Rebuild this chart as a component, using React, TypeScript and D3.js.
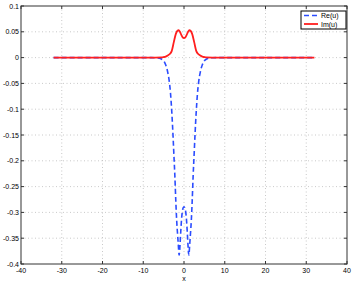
import React from "react";
import * as d3 from "d3";

const xTicks = [-40, -30, -20, -10, 0, 10, 20, 30, 40];
const yTicks = [0.1, 0.05, 0, -0.05, -0.1, -0.15, -0.2, -0.25, -0.3, -0.35, -0.4];

const reXLeft = [-32, -8, -7, -6, -5.5, -5, -4.5, -4, -3.6, -3.3, -3.0, -2.7, -2.5, -2.25, -2.0, -1.8, -1.6, -1.4, -1.2, -1.1, -1.0, -0.8, -0.6, -0.4, -0.2, 0];
const reYLeft = [0, 0, -0.0003, -0.001, -0.003, -0.006, -0.014, -0.028, -0.047, -0.07, -0.105, -0.15, -0.185, -0.228, -0.28, -0.315, -0.34, -0.362, -0.383, -0.378, -0.366, -0.338, -0.313, -0.298, -0.291, -0.289];

const imXLeft = [-32, -7, -5.5, -5, -4.5, -4, -3.5, -3.0, -2.5, -2.0, -1.6, -1.3, -1.0, -0.6, -0.3, 0];
const imYLeft = [0, 0, 0.0003, 0.001, 0.002, 0.004, 0.007, 0.013, 0.03, 0.046, 0.052, 0.053, 0.05, 0.043, 0.039, 0.038];

function mirror(xs: number[], ys: number[]): [number, number][] {
  const left = xs.map((x, i) => [x, ys[i]] as [number, number]);
  const right = left.slice(0, -1).reverse().map(([x, y]) => [-x, y] as [number, number]);
  return [...left, ...right];
}

const reData = mirror(reXLeft, reYLeft);
const imData = mirror(imXLeft, imYLeft);

export default function App() {
  const W = 354, H = 285;
  const L = 21, R = 347, T = 6, B = 264;
  const x = d3.scaleLinear().domain([-40, 40]).range([L, R]);
  const y = d3.scaleLinear().domain([-0.4, 0.1]).range([B, T]);
  const line = d3.line<[number, number]>().x(d => x(d[0])).y(d => y(d[1])).curve(d3.curveMonotoneX);
  const font = "Liberation Sans, Arial, sans-serif";
  const axisColor = "#333";
  return (
    <svg width={W} height={H} style={{ position: "absolute", left: 0, top: 0, background: "#fff" }}>
      <rect x={0} y={0} width={W} height={H} fill="#fff" />
      {/* grid */}
      {xTicks.slice(1, -1).map(t => (
        <line key={"gx" + t} x1={x(t)} x2={x(t)} y1={T} y2={B} stroke="#bbb" strokeWidth={0.8} strokeDasharray="1,2.5" />
      ))}
      {yTicks.slice(1, -1).map(t => (
        <line key={"gy" + t} x1={L} x2={R} y1={y(t)} y2={y(t)} stroke="#bbb" strokeWidth={0.8} strokeDasharray="1,2.5" />
      ))}
      {/* curves */}
      <path d={line(reData) || ""} fill="none" stroke="#2b4cff" strokeWidth={1.6} strokeDasharray="5,3" />
      <path d={line(imData) || ""} fill="none" stroke="#ff1f1f" strokeWidth={1.8} />
      {/* box */}
      <rect x={L} y={T} width={R - L} height={B - T} fill="none" stroke={axisColor} strokeWidth={1} />
      {/* ticks */}
      {xTicks.map(t => (
        <g key={"tx" + t}>
          <line x1={x(t)} x2={x(t)} y1={B} y2={B - 3} stroke={axisColor} />
          <line x1={x(t)} x2={x(t)} y1={T} y2={T + 3} stroke={axisColor} />
          <text x={x(t)} y={B + 9} fontSize={7} fontFamily={font} textAnchor="middle" fill="#000">{t}</text>
        </g>
      ))}
      {yTicks.map(t => (
        <g key={"ty" + t}>
          <line x1={L} x2={L + 3} y1={y(t)} y2={y(t)} stroke={axisColor} />
          <line x1={R} x2={R - 3} y1={y(t)} y2={y(t)} stroke={axisColor} />
          <text x={L - 2} y={y(t) + 2.5} fontSize={7} fontFamily={font} textAnchor="end" fill="#000">{t}</text>
        </g>
      ))}
      <text x={x(0)} y={281} fontSize={7} fontFamily={font} textAnchor="middle" fill="#000">x</text>
      {/* legend */}
      <g>
        <rect x={301} y={11} width={45} height={18} fill="#fff" stroke="#000" strokeWidth={1} />
        <line x1={304} x2={318} y1={15.5} y2={15.5} stroke="#2b4cff" strokeWidth={1.6} strokeDasharray="5,3" />
        <text x={321} y={18} fontSize={7} fontFamily={font} fill="#000">Re(u)</text>
        <line x1={304} x2={318} y1={24} y2={24} stroke="#ff1f1f" strokeWidth={1.8} />
        <text x={321} y={26.5} fontSize={7} fontFamily={font} fill="#000">Im(u)</text>
      </g>
    </svg>
  );
}
